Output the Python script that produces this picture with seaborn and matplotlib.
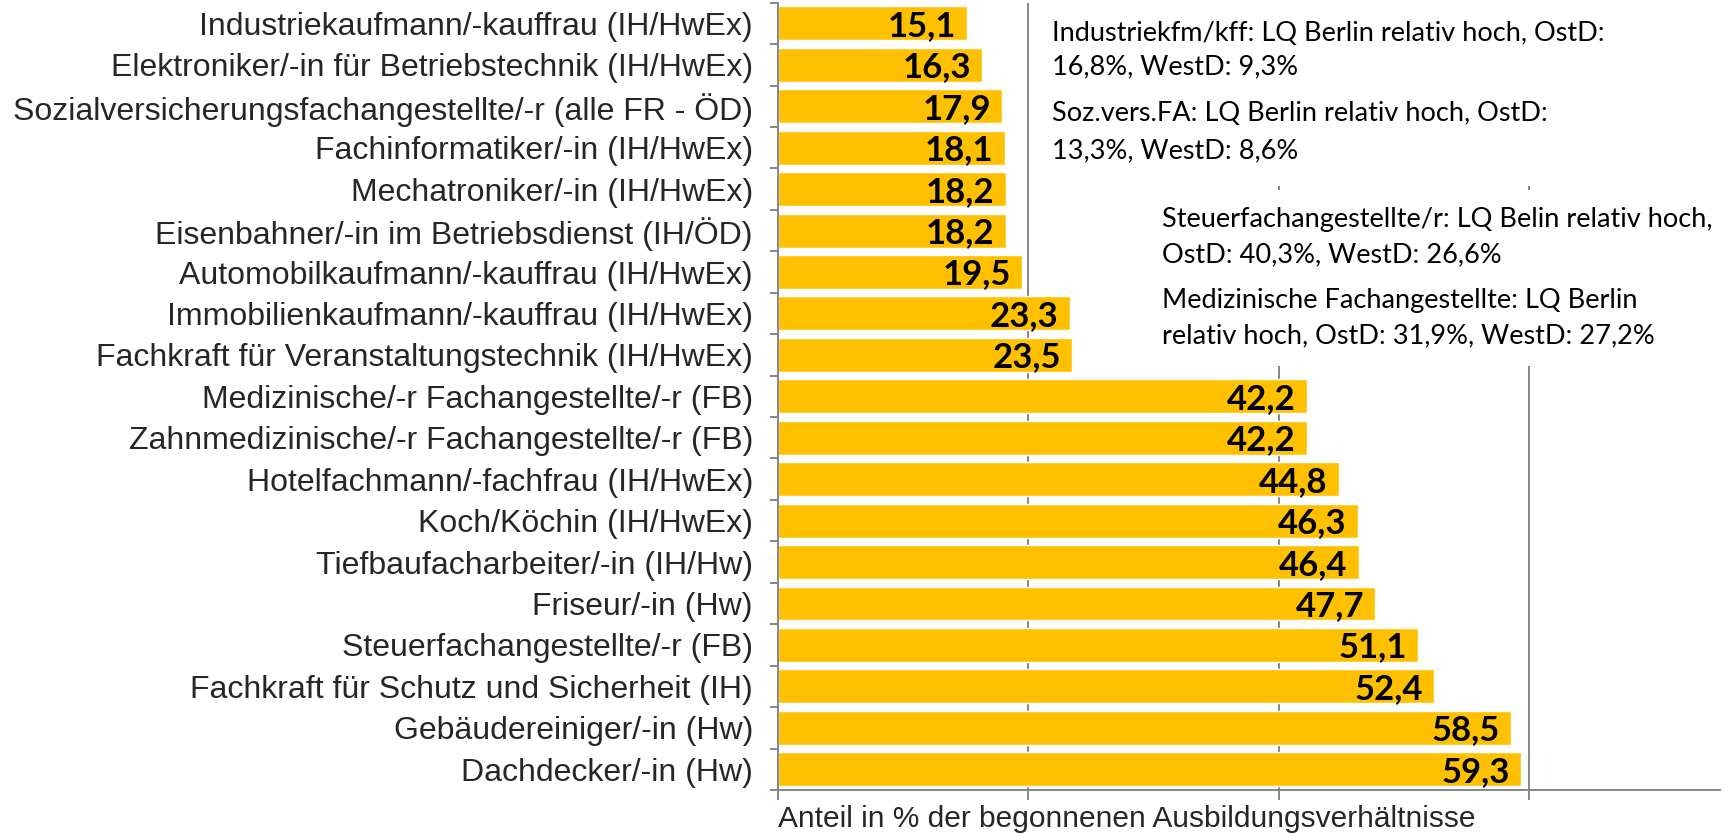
import matplotlib
matplotlib.use("Agg")
import matplotlib.pyplot as plt
from matplotlib.patches import Rectangle
import seaborn as sns
import pandas as pd

categories = [
    "Industriekaufmann/-kauffrau (IH/HwEx)",
    "Elektroniker/-in für Betriebstechnik (IH/HwEx)",
    "Sozialversicherungsfachangestellte/-r (alle FR - ÖD)",
    "Fachinformatiker/-in (IH/HwEx)",
    "Mechatroniker/-in (IH/HwEx)",
    "Eisenbahner/-in im Betriebsdienst (IH/ÖD)",
    "Automobilkaufmann/-kauffrau (IH/HwEx)",
    "Immobilienkaufmann/-kauffrau (IH/HwEx)",
    "Fachkraft für Veranstaltungstechnik (IH/HwEx)",
    "Medizinische/-r Fachangestellte/-r (FB)",
    "Zahnmedizinische/-r Fachangestellte/-r (FB)",
    "Hotelfachmann/-fachfrau (IH/HwEx)",
    "Koch/Köchin (IH/HwEx)",
    "Tiefbaufacharbeiter/-in (IH/Hw)",
    "Friseur/-in (Hw)",
    "Steuerfachangestellte/-r (FB)",
    "Fachkraft für Schutz und Sicherheit (IH)",
    "Gebäudereiniger/-in (Hw)",
    "Dachdecker/-in (Hw)",
]
values = [15.1, 16.3, 17.9, 18.1, 18.2, 18.2, 19.5, 23.3, 23.5, 42.2,
          42.2, 44.8, 46.3, 46.4, 47.7, 51.1, 52.4, 58.5, 59.3]
x_label = "Anteil in % der begonnenen Ausbildungsverhältnisse"
notes_block1 = ["Industriekfm/kff: LQ Berlin relativ hoch, OstD:",
                "16,8%, WestD: 9,3%",
                "Soz.vers.FA: LQ Berlin relativ hoch, OstD:",
                "13,3%, WestD: 8,6%"]
notes_block2 = ["Steuerfachangestellte/r: LQ Belin relativ hoch,",
                "OstD: 40,3%, WestD: 26,6%",
                "Medizinische Fachangestellte: LQ Berlin",
                "relativ hoch, OstD: 31,9%, WestD: 27,2%"]

sns.set_theme(style="white")
plt.rcParams["font.family"] = ["Liberation Sans", "DejaVu Sans"]

df = pd.DataFrame({"Beruf": categories, "Anteil": values})

fig = plt.figure(figsize=(17.25, 8.34), dpi=100)
ax = fig.add_axes([0.451, 0.0528, 0.546, 0.944])

sns.barplot(data=df, y="Beruf", x="Anteil", orient="h", color="#FFC000",
            saturation=1, width=0.82, ax=ax, zorder=2)

grey = "#868686"
ax.set_xlim(0, 75.2)
ax.set_ylim(18.42, -0.5)
ax.set_xticks([0, 20, 40, 60])
ax.set_xticklabels([])
ax.xaxis.grid(True, color=grey, linewidth=1.4)
ax.yaxis.grid(False)
ax.set_axisbelow(True)
ax.tick_params(axis="x", which="major", direction="out", length=7, width=1.4,
               color=grey, bottom=True, pad=0)
ax.set_yticks(range(len(categories)))
ax.set_yticklabels(categories, fontsize=23)
ax.set_yticks([i + 0.5 for i in range(-1, len(categories))], minor=True)
ax.tick_params(axis="y", which="major", length=0, pad=18)
ax.tick_params(axis="y", which="minor", direction="out", length=6, width=1.4,
               color=grey, left=True)
for side in ["top", "right"]:
    ax.spines[side].set_visible(False)
for side in ["left", "bottom"]:
    ax.spines[side].set_color(grey)
    ax.spines[side].set_linewidth(1.4)
ax.set_ylabel("")
ax.set_xlabel(x_label, loc="left", fontsize=21.5, labelpad=4)

# value labels
for i, v in enumerate(values):
    ax.text(v - 0.9, i + 0.06, f"{v:.1f}".replace(".", ","), ha="right",
            va="center", fontsize=25, fontweight="bold", family="Lato",
            color="black", zorder=4)

# white boxes behind notes
ax.add_patch(Rectangle((20.9, -0.6), 46.9, 4.53, facecolor="white",
                       edgecolor="none", zorder=3, clip_on=False))
ax.add_patch(Rectangle((30.1, 4.03), 46.0, 4.24, facecolor="white",
                       edgecolor="none", zorder=3, clip_on=False))

ys1 = [0.42, 1.22, 2.35, 3.25]
ys2 = [4.92, 5.76, 6.87, 7.72]
for t, y in zip(notes_block1, ys1):
    ax.text(21.9, y, t, ha="left", va="baseline", fontsize=19.5, family="Lato",
            color="black", zorder=4)
for t, y in zip(notes_block2, ys2):
    ax.text(30.7, y, t, ha="left", va="baseline", fontsize=19.5, family="Lato",
            color="black", zorder=4)

fig.savefig("out.png", dpi=100, facecolor="white")
